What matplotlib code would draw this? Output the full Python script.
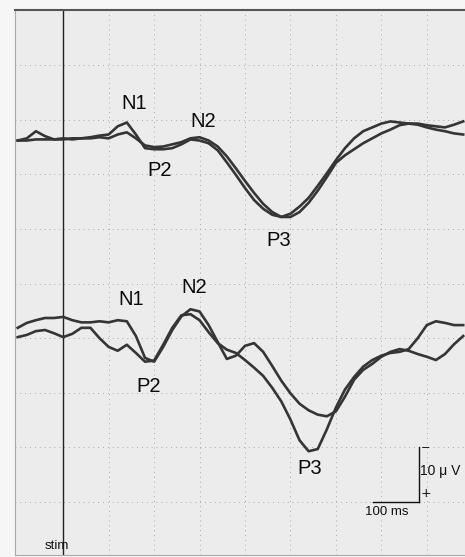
import numpy as np
import matplotlib.pyplot as plt

# tiempo (ms), una muestra cada 20 ms
t = np.arange(-100, 881, 20)

# amplitud en microvoltios (positivo hacia abajo)
arriba_a = [0.4, 0, -1.3, -0.4, 0.2, 0.2, 0, 0, -0.2, -0.5,
            -0.7, -2.2, -2.9, -0.7, 1.8, 2.0, 2.0, 1.8, 1.1, 0.2,
            0.4, 0.9, 2.2, 4.4, 6.7, 9.1, 11.3, 12.9, 14.0, 14.4,
            13.8, 12.5, 10.9, 8.7, 6.4, 4.0, 1.8, 0, -1.3, -2.0,
            -2.7, -3.1, -2.9, -2.7, -2.7, -2.4, -2.2, -2.0, -2.5, -3.1]
arriba_b = [0.4, 0.4, 0.2, 0.2, 0.2, 0, 0.2, 0, 0, -0.2,
            0, -0.7, -1.1, 0, 1.3, 1.6, 1.5, 1.1, 0.7, 0,
            -0.2, 0.4, 1.5, 3.3, 5.5, 7.8, 10.0, 12.0, 13.5, 14.4,
            14.4, 13.5, 11.8, 9.6, 7.1, 4.5, 3.1, 2.0, 0.9, 0,
            -0.9, -1.6, -2.4, -2.7, -2.5, -2.0, -1.6, -1.3, -0.9, -0.7]
abajo_a = [0.5, -0.4, -0.9, -1.3, -1.3, -1.5, -0.9, -0.5, -0.5, -0.7,
           -0.5, -0.9, -0.7, 2.0, 6.0, 6.7, 4.0, 0.9, -1.6, -2.9,
           -2.5, 0, 3.1, 6.2, 5.6, 3.8, 3.3, 4.9, 7.5, 10.2,
           12.5, 14.4, 15.6, 16.4, 16.7, 15.8, 13.1, 10.0, 8.2, 7.1,
           5.8, 4.9, 4.4, 4.7, 5.3, 5.8, 6.4, 5.3, 3.5, 2.0]
abajo_b = [2.2, 1.8, 1.1, 0.9, 1.5, 2.2, 1.6, 0.5, 0.5, 2.4,
           4.0, 4.7, 3.6, 5.1, 6.7, 6.5, 3.6, 0.5, -1.8, -2.0,
           -0.9, 1.3, 3.3, 4.5, 5.1, 6.4, 7.8, 9.3, 11.5, 14.0,
           17.3, 21.1, 23.1, 22.7, 19.1, 15.1, 11.8, 9.5, 7.6, 6.4,
           5.6, 5.1, 4.9, 4.4, 2.4, 0, -0.7, -0.4, 0, 0]

desplaz = [25.3, 59.5]  # linea base de cada par de trazos

etiquetas = ["N1", "N2", "P2", "P3", "N1", "N2", "P2", "P3"]
etiq_t = [156, 308, 213, 475, 149, 288, 187, 543]
etiq_y = [18.9, 22.2, 31.1, 44.1, 54.9, 52.7, 70.7, 85.7]

fig = plt.figure(figsize=(4.65, 5.57), dpi=100, facecolor="#f6f6f6")
ax = fig.add_axes([15 / 465, 2 / 557, 450 / 465, 545 / 557])
ax.set_facecolor("#ececec")
ax.set_xlim(-106, 884)
ax.set_ylim(101.6, 1.8)

# rejilla punteada
for xv in range(100, 801, 100):
    ax.axvline(xv, color="#a8a8a8", lw=0.7, ls=(0, (1, 4)), zorder=1)
for yv in np.arange(11.9, 92, 10):
    ax.axhline(yv, color="#a8a8a8", lw=0.7, ls=(0, (1, 4)), zorder=1)

# linea del estimulo
ax.axvline(0, color="#222222", lw=1.0, zorder=2)

for a, b, off in [(arriba_a, arriba_b, desplaz[0]), (abajo_a, abajo_b, desplaz[1])]:
    ax.plot(t, np.array(a) + off, color="#353535", lw=1.9, solid_joinstyle="round", zorder=3)
    ax.plot(t, np.array(b) + off, color="#353535", lw=1.9, solid_joinstyle="round", zorder=3)

for txt, xx, yy in zip(etiquetas, etiq_t, etiq_y):
    ax.text(xx, yy, txt, fontsize=14.5, family="Liberation Sans", ha="center", va="center", color="#0a0a0a")

# barra de escala
ax.plot([782, 782], [81.9, 91.9], color="#111111", lw=1.0)
ax.plot([682, 782], [91.9, 91.9], color="#111111", lw=1.0)
ax.text(797, 82.0, "\u2212", fontsize=8, ha="center", va="center", color="#111111")
ax.text(797, 90.4, "+", fontsize=9, ha="center", va="center", color="#111111")
ax.text(785, 86.2, "10 \u03bc V", fontsize=10, family="Liberation Sans", ha="left", va="center", color="#111111")
ax.text(712, 93.7, "100 ms", fontsize=9.5, family="Liberation Sans", ha="center", va="center", color="#111111")
ax.text(-13, 100.0, "stim", fontsize=9.5, family="Liberation Sans", ha="center", va="center", color="#111111")

ax.set_xticks([])
ax.set_yticks([])
ax.spines["right"].set_visible(False)
ax.spines["top"].set_color("#555555")
ax.spines["top"].set_linewidth(1.5)
ax.spines["left"].set_color("#aaaaaa")
ax.spines["bottom"].set_color("#aaaaaa")

fig.savefig("out.png", dpi=100, facecolor=fig.get_facecolor())
